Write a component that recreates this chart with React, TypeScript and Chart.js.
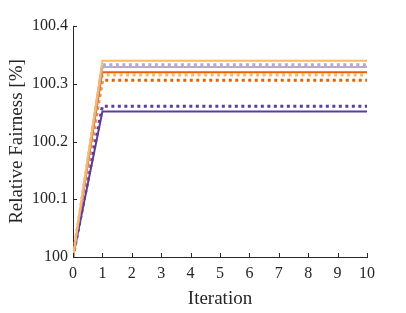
import React, { useEffect, useRef } from "react";
import { Chart, registerables } from "chart.js";

Chart.register(...registerables);

const iterations = [0, 1, 2, 3, 4, 5, 6, 7, 8, 9, 10];
const lightOrangeSolid = [100, 100.34, 100.34, 100.34, 100.34, 100.34, 100.34, 100.34, 100.34, 100.34, 100.34];
const lavenderSolid = [100, 100.329, 100.329, 100.329, 100.329, 100.329, 100.329, 100.329, 100.329, 100.329, 100.329];
const darkOrangeSolid = [100, 100.32, 100.32, 100.32, 100.32, 100.32, 100.32, 100.32, 100.32, 100.32, 100.32];
const purpleSolid = [100, 100.252, 100.252, 100.252, 100.252, 100.252, 100.252, 100.252, 100.252, 100.252, 100.252];
const lavenderDotted = [100, 100.333, 100.333, 100.333, 100.333, 100.333, 100.333, 100.333, 100.333, 100.333, 100.333];
const lightOrangeDotted = [100, 100.315, 100.315, 100.315, 100.315, 100.315, 100.315, 100.315, 100.315, 100.315, 100.315];
const darkOrangeDotted = [100, 100.306, 100.306, 100.306, 100.306, 100.306, 100.306, 100.306, 100.306, 100.306, 100.306];
const purpleDotted = [100, 100.261, 100.261, 100.261, 100.261, 100.261, 100.261, 100.261, 100.261, 100.261, 100.261];

const xTicks = [0, 1, 2, 3, 4, 5, 6, 7, 8, 9, 10];
const yTicks = [100, 100.1, 100.2, 100.3, 100.4];

const LIGHT_ORANGE = "#fdb863";
const DARK_ORANGE = "#e66101";
const LAVENDER = "#b2abd2";
const PURPLE = "#5e3c99";
const INK = "#262626";
const SERIF = "'Liberation Serif', 'Times New Roman', serif";

const toPoints = (vals: number[]) => iterations.map((x, i) => ({ x, y: vals[i] }));

const innerTicks = {
  id: "innerTicks",
  afterDatasetsDraw(chart: any) {
    const { ctx, chartArea, scales } = chart;
    ctx.save();
    ctx.strokeStyle = INK;
    ctx.lineWidth = 1;
    const len = 4;
    xTicks.forEach((v) => {
      const px = Math.round(scales.x.getPixelForValue(v)) + 0.5;
      ctx.beginPath();
      ctx.moveTo(px, chartArea.bottom);
      ctx.lineTo(px, chartArea.bottom - len);
      ctx.stroke();
    });
    yTicks.forEach((v) => {
      const py = Math.round(scales.y.getPixelForValue(v)) + 0.5;
      ctx.beginPath();
      ctx.moveTo(chartArea.left, py);
      ctx.lineTo(chartArea.left + len, py);
      ctx.stroke();
    });
    ctx.restore();
  },
};

export default function App() {
  const ref = useRef<HTMLCanvasElement | null>(null);
  useEffect(() => {
    document.body.style.margin = "0";
    const ds = (vals: number[], color: string, dotted: boolean) => ({
      data: toPoints(vals),
      borderColor: color,
      backgroundColor: color,
      borderWidth: dotted ? 3 : 2,
      borderDash: dotted ? [3, 3.5] : [],
      borderCapStyle: "butt",
      pointRadius: 0,
      tension: 0,
      fill: false,
    });
    const chart = new Chart(ref.current!, {
      type: "line",
      data: {
        datasets: [
          ds(lightOrangeSolid, LIGHT_ORANGE, false),
          ds(lavenderSolid, LAVENDER, false),
          ds(darkOrangeSolid, DARK_ORANGE, false),
          ds(purpleSolid, PURPLE, false),
          ds(lavenderDotted, LAVENDER, true),
          ds(lightOrangeDotted, LIGHT_ORANGE, true),
          ds(darkOrangeDotted, DARK_ORANGE, true),
          ds(purpleDotted, PURPLE, true),
        ],
      },
      options: {
        animation: false,
        responsive: false,
        layout: { padding: { top: 26, right: 39, left: 0, bottom: 0 } },
        plugins: { legend: { display: false }, tooltip: { enabled: false } },
        scales: {
          x: {
            type: "linear",
            min: 0,
            max: 10,
            afterFit: (s: any) => {
              s.height = 56;
            },
            afterBuildTicks: (s: any) => {
              s.ticks = xTicks.map((v) => ({ value: v }));
            },
            grid: { display: true, drawOnChartArea: false, drawTicks: false },
            border: { display: true, color: INK, width: 1 },
            ticks: {
              color: INK,
              padding: 7,
              font: { family: SERIF, size: 16 },
              maxRotation: 0,
              callback: (v: any) => String(v),
            },
            title: {
              display: true,
              text: "Iteration",
              color: INK,
              font: { family: SERIF, size: 19 },
              padding: { top: 0, bottom: 3 },
            },
          },
          y: {
            type: "linear",
            min: 100,
            max: 100.4,
            afterFit: (s: any) => {
              s.width = 73;
            },
            afterBuildTicks: (s: any) => {
              s.ticks = yTicks.map((v) => ({ value: v }));
            },
            grid: { display: true, drawOnChartArea: false, drawTicks: false },
            border: { display: true, color: INK, width: 1 },
            ticks: {
              color: INK,
              padding: 5,
              font: { family: SERIF, size: 16 },
              callback: (v: any) => String(Math.round(Number(v) * 10) / 10),
            },
            title: {
              display: true,
              text: "Relative Fairness [%]",
              color: INK,
              font: { family: SERIF, size: 19 },
              padding: { top: 6, bottom: 0 },
            },
          },
        },
      },
      plugins: [innerTicks],
    } as any);
    return () => chart.destroy();
  }, []);
  return (
    <div style={{ position: "absolute", left: 0, top: 0, width: 406, height: 313, background: "#fff" }}>
      <canvas ref={ref} width={406} height={313} style={{ width: 406, height: 313 }} />
    </div>
  );
}
